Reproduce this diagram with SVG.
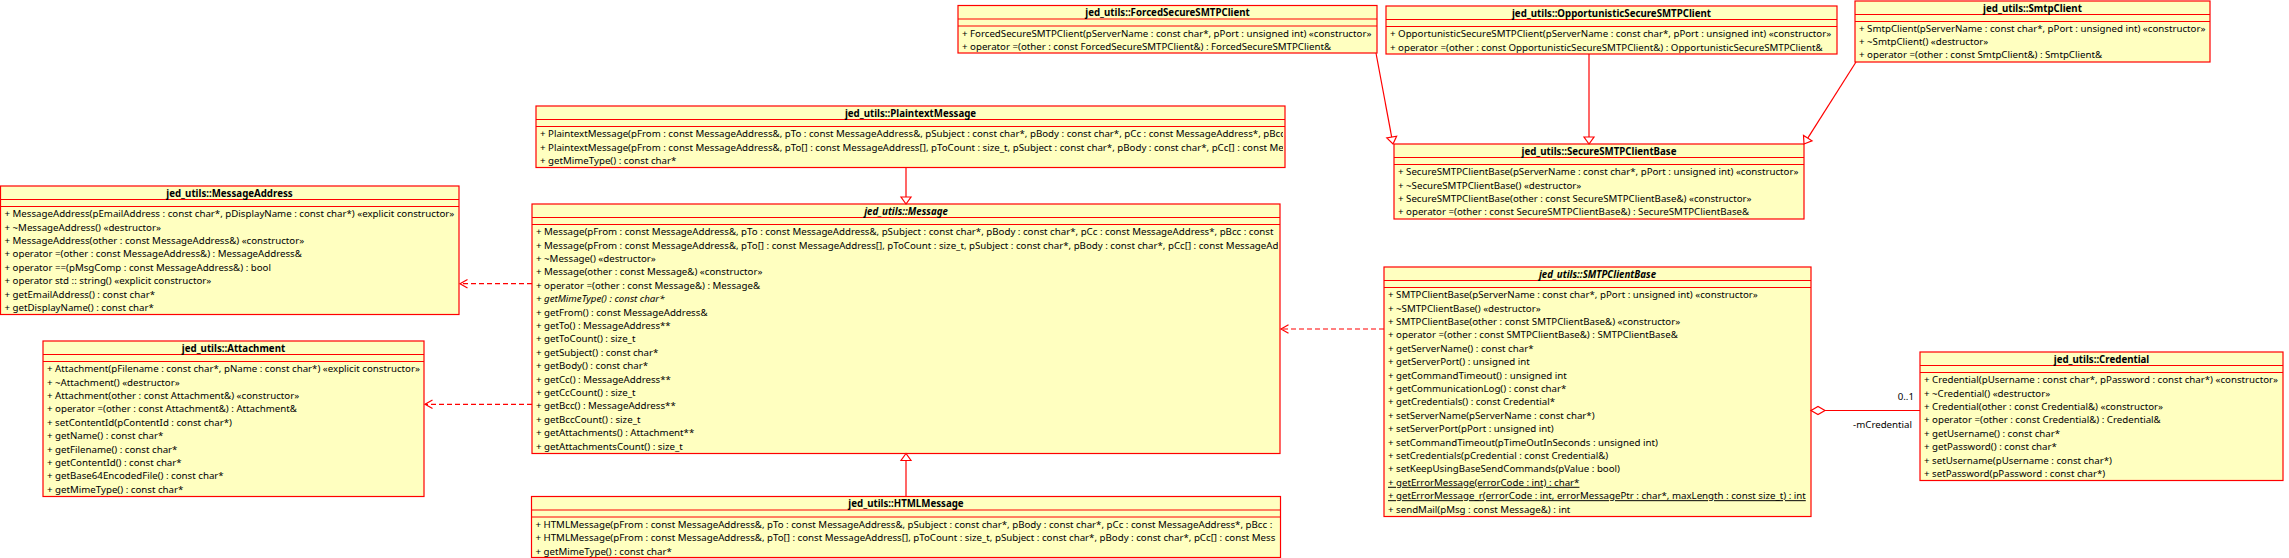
<svg xmlns="http://www.w3.org/2000/svg" width="2289" height="558" viewBox="0 0 2289 558">
<style>
.box{fill:#ffffc0;stroke:#ff0000;stroke-width:1.2}
.sep{stroke:#ff0000;stroke-width:1.2;fill:none}
text{font-family:"Noto Sans","Open Sans","DejaVu Sans",sans-serif;font-size:9.7px;fill:#000}
.t{font-weight:bold;text-anchor:middle}
.it{font-style:italic}
.u{text-decoration:underline}
.edge{stroke:#ff0000;stroke-width:1.2;fill:none}
.dash{stroke-dasharray:5 3}
.tri{fill:#ffffff;stroke:#ff0000;stroke-width:1.2}
.lbl{text-anchor:end}
</style>
<defs>
<clipPath id="cpPlain"><rect x="536" y="126" width="747" height="41"/></clipPath>
<clipPath id="cpMsg"><rect x="532" y="224" width="746" height="229"/></clipPath>
<clipPath id="cpHtml"><rect x="531" y="517" width="748" height="41"/></clipPath>
</defs>

<g id="MessageAddress">
<rect class="box" x="0.5" y="186" width="458.5" height="128.5"/>
<line class="sep" x1="0.5" y1="199.5" x2="459" y2="199.5"/>
<line class="sep" x1="0.5" y1="206.5" x2="459" y2="206.5"/>
<text class="t" x="229.5" y="196.5">jed_utils::MessageAddress</text>
<text x="4.5" y="217.2">+ MessageAddress(pEmailAddress : const char*, pDisplayName : const char*) «explicit constructor»</text>
<text x="4.5" y="230.6">+ ~MessageAddress() «destructor»</text>
<text x="4.5" y="244">+ MessageAddress(other : const MessageAddress&amp;) «constructor»</text>
<text x="4.5" y="257.4">+ operator =(other : const MessageAddress&amp;) : MessageAddress&amp;</text>
<text x="4.5" y="270.8">+ operator ==(pMsgComp : const MessageAddress&amp;) : bool</text>
<text x="4.5" y="284.2">+ operator std :: string() «explicit constructor»</text>
<text x="4.5" y="297.6">+ getEmailAddress() : const char*</text>
<text x="4.5" y="311">+ getDisplayName() : const char*</text>
</g>

<g id="Attachment">
<rect class="box" x="43" y="341" width="381" height="155.5"/>
<line class="sep" x1="43" y1="354.5" x2="424" y2="354.5"/>
<line class="sep" x1="43" y1="361.5" x2="424" y2="361.5"/>
<text class="t" x="233.5" y="351.5">jed_utils::Attachment</text>
<text x="47" y="372.2">+ Attachment(pFilename : const char*, pName : const char*) «explicit constructor»</text>
<text x="47" y="385.6">+ ~Attachment() «destructor»</text>
<text x="47" y="399">+ Attachment(other : const Attachment&amp;) «constructor»</text>
<text x="47" y="412.4">+ operator =(other : const Attachment&amp;) : Attachment&amp;</text>
<text x="47" y="425.8">+ setContentId(pContentId : const char*)</text>
<text x="47" y="439.2">+ getName() : const char*</text>
<text x="47" y="452.6">+ getFilename() : const char*</text>
<text x="47" y="466">+ getContentId() : const char*</text>
<text x="47" y="479.4">+ getBase64EncodedFile() : const char*</text>
<text x="47" y="492.8">+ getMimeType() : const char*</text>
</g>

<g id="PlaintextMessage">
<rect class="box" x="536" y="106" width="749" height="61.5"/>
<line class="sep" x1="536" y1="119.5" x2="1285" y2="119.5"/>
<line class="sep" x1="536" y1="126.5" x2="1285" y2="126.5"/>
<text class="t" x="910.5" y="116.5">jed_utils::PlaintextMessage</text>
<g clip-path="url(#cpPlain)">
<text x="540" y="137.2">+ PlaintextMessage(pFrom : const MessageAddress&amp;, pTo : const MessageAddress&amp;, pSubject : const char*, pBody : const char*, pCc : const MessageAddress*, pBcc</text>
<text x="540" y="150.6">+ PlaintextMessage(pFrom : const MessageAddress&amp;, pTo[] : const MessageAddress[], pToCount : size_t, pSubject : const char*, pBody : const char*, pCc[] : const Me</text>
<text x="540" y="164">+ getMimeType() : const char*</text>
</g>
</g>

<g id="Message">
<rect class="box" x="532" y="204" width="748" height="249.5"/>
<line class="sep" x1="532" y1="217.5" x2="1280" y2="217.5"/>
<line class="sep" x1="532" y1="224.5" x2="1280" y2="224.5"/>
<text class="t it" x="906" y="214.5">jed_utils::Message</text>
<g clip-path="url(#cpMsg)">
<text x="536" y="235.2">+ Message(pFrom : const MessageAddress&amp;, pTo : const MessageAddress&amp;, pSubject : const char*, pBody : const char*, pCc : const MessageAddress*, pBcc : const</text>
<text x="536" y="248.6">+ Message(pFrom : const MessageAddress&amp;, pTo[] : const MessageAddress[], pToCount : size_t, pSubject : const char*, pBody : const char*, pCc[] : const MessageAd</text>
<text x="536" y="262">+ ~Message() «destructor»</text>
<text x="536" y="275.4">+ Message(other : const Message&amp;) «constructor»</text>
<text x="536" y="288.8">+ operator =(other : const Message&amp;) : Message&amp;</text>
<text class="it" x="536" y="302.2">+ getMimeType() : const char*</text>
<text x="536" y="315.6">+ getFrom() : const MessageAddress&amp;</text>
<text x="536" y="329">+ getTo() : MessageAddress**</text>
<text x="536" y="342.4">+ getToCount() : size_t</text>
<text x="536" y="355.8">+ getSubject() : const char*</text>
<text x="536" y="369.2">+ getBody() : const char*</text>
<text x="536" y="382.6">+ getCc() : MessageAddress**</text>
<text x="536" y="396">+ getCcCount() : size_t</text>
<text x="536" y="409.4">+ getBcc() : MessageAddress**</text>
<text x="536" y="422.8">+ getBccCount() : size_t</text>
<text x="536" y="436.2">+ getAttachments() : Attachment**</text>
<text x="536" y="449.6">+ getAttachmentsCount() : size_t</text>
</g>
</g>

<g id="HTMLMessage">
<rect class="box" x="531.5" y="496.5" width="749" height="61"/>
<line class="sep" x1="531.5" y1="510" x2="1280.5" y2="510"/>
<line class="sep" x1="531.5" y1="517" x2="1280.5" y2="517"/>
<text class="t" x="906" y="507">jed_utils::HTMLMessage</text>
<g clip-path="url(#cpHtml)">
<text x="535.5" y="527.7">+ HTMLMessage(pFrom : const MessageAddress&amp;, pTo : const MessageAddress&amp;, pSubject : const char*, pBody : const char*, pCc : const MessageAddress*, pBcc :</text>
<text x="535.5" y="541.1">+ HTMLMessage(pFrom : const MessageAddress&amp;, pTo[] : const MessageAddress[], pToCount : size_t, pSubject : const char*, pBody : const char*, pCc[] : const Mess</text>
<text x="535.5" y="554.5">+ getMimeType() : const char*</text>
</g>
</g>

<g id="ForcedSecureSMTPClient">
<rect class="box" x="958" y="5.5" width="419" height="47.5"/>
<line class="sep" x1="958" y1="19" x2="1377" y2="19"/>
<line class="sep" x1="958" y1="26" x2="1377" y2="26"/>
<text class="t" x="1167.5" y="16">jed_utils::ForcedSecureSMTPClient</text>
<text x="962" y="36.7">+ ForcedSecureSMTPClient(pServerName : const char*, pPort : unsigned int) «constructor»</text>
<text x="962" y="50.1">+ operator =(other : const ForcedSecureSMTPClient&amp;) : ForcedSecureSMTPClient&amp;</text>
</g>

<g id="OpportunisticSecureSMTPClient">
<rect class="box" x="1386" y="6" width="451" height="48"/>
<line class="sep" x1="1386" y1="19.5" x2="1837" y2="19.5"/>
<line class="sep" x1="1386" y1="26.5" x2="1837" y2="26.5"/>
<text class="t" x="1611.5" y="16.5">jed_utils::OpportunisticSecureSMTPClient</text>
<text x="1390" y="37.2">+ OpportunisticSecureSMTPClient(pServerName : const char*, pPort : unsigned int) «constructor»</text>
<text x="1390" y="50.6">+ operator =(other : const OpportunisticSecureSMTPClient&amp;) : OpportunisticSecureSMTPClient&amp;</text>
</g>

<g id="SmtpClient">
<rect class="box" x="1855" y="1" width="355" height="61"/>
<line class="sep" x1="1855" y1="14.5" x2="2210" y2="14.5"/>
<line class="sep" x1="1855" y1="21.5" x2="2210" y2="21.5"/>
<text class="t" x="2032.5" y="11.5">jed_utils::SmtpClient</text>
<text x="1859" y="32">+ SmtpClient(pServerName : const char*, pPort : unsigned int) «constructor»</text>
<text x="1859" y="45.2">+ ~SmtpClient() «destructor»</text>
<text x="1859" y="58.4">+ operator =(other : const SmtpClient&amp;) : SmtpClient&amp;</text>
</g>

<g id="SecureSMTPClientBase">
<rect class="box" x="1394" y="144" width="410" height="75"/>
<line class="sep" x1="1394" y1="157.5" x2="1804" y2="157.5"/>
<line class="sep" x1="1394" y1="164.5" x2="1804" y2="164.5"/>
<text class="t" x="1599" y="154.5">jed_utils::SecureSMTPClientBase</text>
<text x="1398" y="175.2">+ SecureSMTPClientBase(pServerName : const char*, pPort : unsigned int) «constructor»</text>
<text x="1398" y="188.6">+ ~SecureSMTPClientBase() «destructor»</text>
<text x="1398" y="202">+ SecureSMTPClientBase(other : const SecureSMTPClientBase&amp;) «constructor»</text>
<text x="1398" y="215.4">+ operator =(other : const SecureSMTPClientBase&amp;) : SecureSMTPClientBase&amp;</text>
</g>

<g id="SMTPClientBase">
<rect class="box" x="1384" y="267" width="427" height="249.5"/>
<line class="sep" x1="1384" y1="280.5" x2="1811" y2="280.5"/>
<line class="sep" x1="1384" y1="287.5" x2="1811" y2="287.5"/>
<text class="t it" x="1597.5" y="277.5">jed_utils::SMTPClientBase</text>
<text x="1388" y="298.2">+ SMTPClientBase(pServerName : const char*, pPort : unsigned int) «constructor»</text>
<text x="1388" y="311.6">+ ~SMTPClientBase() «destructor»</text>
<text x="1388" y="325">+ SMTPClientBase(other : const SMTPClientBase&amp;) «constructor»</text>
<text x="1388" y="338.4">+ operator =(other : const SMTPClientBase&amp;) : SMTPClientBase&amp;</text>
<text x="1388" y="351.8">+ getServerName() : const char*</text>
<text x="1388" y="365.2">+ getServerPort() : unsigned int</text>
<text x="1388" y="378.6">+ getCommandTimeout() : unsigned int</text>
<text x="1388" y="392">+ getCommunicationLog() : const char*</text>
<text x="1388" y="405.4">+ getCredentials() : const Credential*</text>
<text x="1388" y="418.8">+ setServerName(pServerName : const char*)</text>
<text x="1388" y="432.2">+ setServerPort(pPort : unsigned int)</text>
<text x="1388" y="445.6">+ setCommandTimeout(pTimeOutInSeconds : unsigned int)</text>
<text x="1388" y="459">+ setCredentials(pCredential : const Credential&amp;)</text>
<text x="1388" y="472.4">+ setKeepUsingBaseSendCommands(pValue : bool)</text>
<text class="u" x="1388" y="485.8">+ getErrorMessage(errorCode : int) : char*</text>
<text class="u" x="1388" y="499.2">+ getErrorMessage_r(errorCode : int, errorMessagePtr : char*, maxLength : const size_t) : int</text>
<text x="1388" y="512.6">+ sendMail(pMsg : const Message&amp;) : int</text>
</g>

<g id="Credential">
<rect class="box" x="1920" y="352" width="363" height="128.5"/>
<line class="sep" x1="1920" y1="365.5" x2="2283" y2="365.5"/>
<line class="sep" x1="1920" y1="372.5" x2="2283" y2="372.5"/>
<text class="t" x="2101.5" y="362.5">jed_utils::Credential</text>
<text x="1924" y="383.2">+ Credential(pUsername : const char*, pPassword : const char*) «constructor»</text>
<text x="1924" y="396.6">+ ~Credential() «destructor»</text>
<text x="1924" y="410">+ Credential(other : const Credential&amp;) «constructor»</text>
<text x="1924" y="423.4">+ operator =(other : const Credential&amp;) : Credential&amp;</text>
<text x="1924" y="436.8">+ getUsername() : const char*</text>
<text x="1924" y="450.2">+ getPassword() : const char*</text>
<text x="1924" y="463.6">+ setUsername(pUsername : const char*)</text>
<text x="1924" y="477">+ setPassword(pPassword : const char*)</text>
</g>

<g id="connectors">
<line class="edge" x1="906" y1="167.5" x2="906" y2="197"/>
<polygon class="tri" points="906,204 901,197 911,197"/>
<line class="edge" x1="906" y1="496.5" x2="906" y2="460.5"/>
<polygon class="tri" points="906,453.5 901,460.5 911,460.5"/>
<line class="edge dash" x1="532" y1="283.7" x2="460" y2="283.7"/>
<polyline class="edge" points="467.5,279.4 460,283.7 467.5,288"/>
<line class="edge dash" x1="532" y1="404.3" x2="425" y2="404.3"/>
<polyline class="edge" points="432.5,400 425,404.3 432.5,408.6"/>
<line class="edge dash" x1="1384" y1="329" x2="1281" y2="329"/>
<polyline class="edge" points="1288.5,324.7 1281,329 1288.5,333.3"/>
<line class="edge" x1="1825" y1="410.5" x2="1920" y2="410.5"/>
<polygon class="tri" points="1811,410.5 1818,406.5 1825,410.5 1818,414.5"/>
<text class="lbl" x="1914" y="400">0..1</text>
<text class="lbl" x="1912" y="428">-mCredential</text>
<line class="edge" x1="1376" y1="53" x2="1391.7" y2="137.1"/>
<polygon class="tri" points="1393,144 1396.6,136.2 1386.8,138"/>
<line class="edge" x1="1589" y1="54" x2="1589" y2="137"/>
<polygon class="tri" points="1589,144 1584,137 1594,137"/>
<line class="edge" x1="1856" y1="62" x2="1807.75" y2="138.1"/>
<polygon class="tri" points="1804,144 1812,140.8 1803.5,135.4"/>
</g>
</svg>
